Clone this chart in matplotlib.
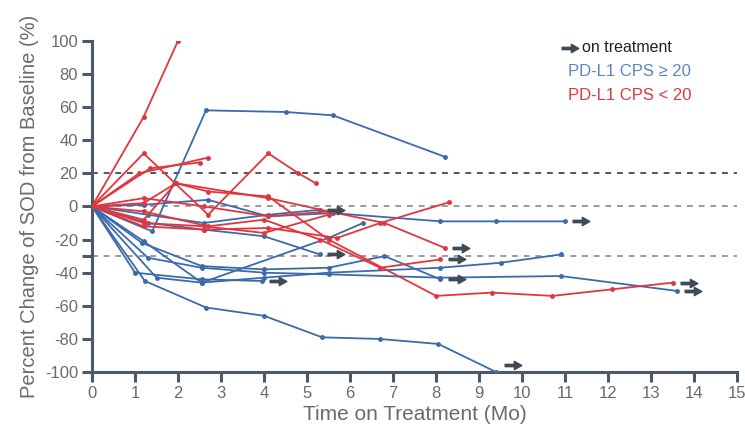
import matplotlib
matplotlib.use("Agg")
import matplotlib.pyplot as plt
from matplotlib.path import Path
import numpy as np

plt.rcParams['font.family'] = ['Liberation Sans', 'DejaVu Sans']

# ---- data (months, % change) ----
blue_x = [
    [0, 1.4, 2.65, 4.5, 5.6, 8.2],
    [0, 1.2, 2.7, 4.1, 5.6, 8.1, 9.4, 11.0],
    [0, 1.23, 2.65, 4.0, 5.35, 6.7, 8.05, 9.4],
    [0, 1.3, 2.55, 4.0, 5.5, 8.1, 10.9, 13.6],
    [0, 1.5, 2.55, 4.0, 5.5, 8.1, 9.5, 10.9],
    [0, 1.0, 2.55, 3.95],
    [0, 1.3, 2.6, 4.0, 5.3],
    [0, 1.3, 2.6, 4.1, 5.3],
    [0, 1.2, 2.55, 5.5, 6.3],
    [0, 1.16, 2.55, 4.0, 5.5, 6.8, 8.1],
]
blue_y = [
    [0, -15, 58, 57, 55, 30],
    [0, 1, 4, -6, -4, -9, -9, -9],
    [0, -45, -61, -66, -79, -80, -83, -100],
    [0, -31, -37, -40, -41, -43, -42, -51],
    [0, -43, -46, -43, -40, -37, -34, -29],
    [0, -40, -44, -45],
    [0, -10, -14, -18, -29],
    [0, -5, -10, -5, -2],
    [0, -21, -46, -19, -10],
    [0, -22, -36, -38, -37, -30, -44],
]
blue_arrow = [False, True, True, True, False, True, True, True, False, True]

red_x = [
    [0, 1.2, 2.0],
    [0, 1.2, 2.7, 4.1, 4.8, 5.2],
    [0, 1.35, 2.5],
    [0, 1.1, 2.7],
    [0, 1.2, 1.95, 4.1, 5.5, 6.8, 8.2],
    [0, 1.2, 1.95, 2.7, 4.1, 5.5, 8.0, 9.3, 10.7, 12.1, 13.5],
    [0, 1.2, 2.6, 4.0, 5.5],
    [0, 1.2, 2.6, 4.1, 5.7, 6.7, 8.3],
    [0, 1.2, 2.7, 4.0, 5.3, 6.7, 8.1],
    [0, 1.2, 2.6, 4.1, 5.5],
]
red_y = [
    [0, 54, 100],
    [0, 32, -5, 32, 20, 14],
    [0, 23, 26.5],
    [0, 20, 29.5],
    [0, 2, 14, 5, -3, -10, -25],
    [0, -8, 14, 9, 6, -20, -54, -52, -54, -50, -46],
    [0, -10, -12, -16, -5],
    [0, -12, -14, -13, -19, -10, 2.5],
    [0, -3, -12, -8, -20, -37, -32],
    [0, 5, 0, -6, -3],
]
red_arrow = [False, False, False, False, True, True, False, False, True, False]

x_ticks = list(range(0, 16))
y_ticks = [100, 80, 60, 40, 20, 0, -20, -40, -60, -80, -100]
ref_lines = [20, 0, -30]

BLUE = '#3b6bab'
RED = '#e2363f'
ARROWC = '#3e4a56'
AXC = '#4b5a68'
TXT = '#6b6b6b'

arrow_path = Path(
    [(-1.0, -0.14), (0.1, -0.14), (0.1, -0.5), (1.0, 0.0), (0.1, 0.5),
     (0.1, 0.14), (-1.0, 0.14), (-1.0, -0.14)],
    [Path.MOVETO] + [Path.LINETO] * 6 + [Path.CLOSEPOLY])

fig = plt.figure(figsize=(7.45, 4.43), dpi=100)
ax = fig.add_axes([0.1235, 0.160, 0.866, 0.748])

for yv, col in zip(ref_lines, ['#555555', '#9a9a9a', '#9a9a9a']):
    ax.axhline(yv, color=col, lw=1.4, ls=(0, (3, 3)), zorder=1)

def draw(xs, ys, arrows, color):
    for x, y, a in zip(xs, ys, arrows):
        ax.plot(x, y, color=color, lw=1.3, marker='o', ms=2.5, zorder=3,
                clip_on=True)
        if a:
            ax.plot([x[-1] + 0.38], [max(y[-1], -96)], marker=arrow_path,
                    ms=12, color=ARROWC, ls='none', zorder=4, clip_on=False)

draw(blue_x, blue_y, blue_arrow, BLUE)
draw(red_x, red_y, red_arrow, RED)

ax.set_xlim(0, 15)
ax.set_ylim(-100, 100)
ax.set_xticks(x_ticks)
ax.set_yticks(y_ticks + [-30])
ax.set_yticklabels([str(v) for v in y_ticks] + [''])
for s in ['top', 'right']:
    ax.spines[s].set_visible(False)
for s in ['left', 'bottom']:
    ax.spines[s].set_color(AXC)
    ax.spines[s].set_linewidth(2.2)
ax.tick_params(axis='both', colors=AXC, width=2.2, length=7, labelsize=12,
               labelcolor=TXT, pad=3)

ax.set_xlabel('Time on Treatment (Mo)', fontsize=15, color=TXT, labelpad=3)
ax.set_ylabel('Percent Change of SOD from Baseline (%)', fontsize=14.5,
              color=TXT, labelpad=4)

# legend
fig.text(0.781, 0.892, 'on treatment', fontsize=11.5, color='#222222',
         va='center')
fig.lines.append(plt.Line2D([0.765], [0.892], transform=fig.transFigure,
                            marker=arrow_path, ms=12, color=ARROWC, ls='none'))
fig.text(0.762, 0.838, 'PD-L1 CPS \u2265 20', fontsize=12, color='#5a86bf',
         va='center')
fig.text(0.762, 0.784, 'PD-L1 CPS < 20', fontsize=12, color=RED, va='center')

fig.savefig('out.png', dpi=100)
